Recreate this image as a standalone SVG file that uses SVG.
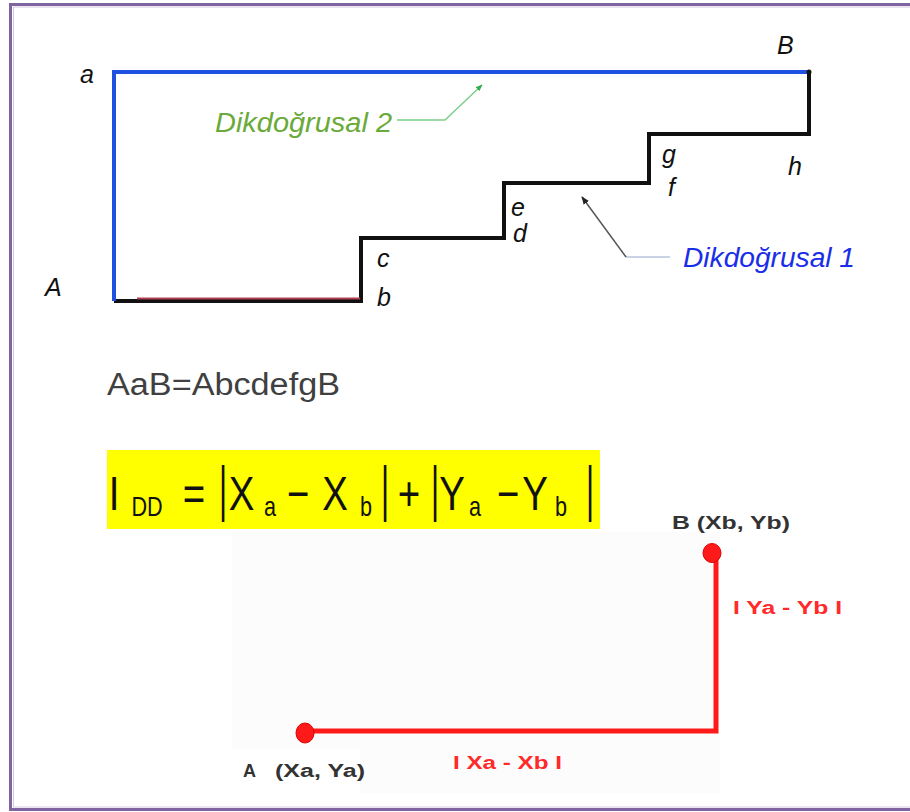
<svg xmlns="http://www.w3.org/2000/svg" width="910" height="812" viewBox="0 0 910 812">
  <style>
    .lbl { font-family: "Liberation Sans", Arial, sans-serif; font-style: italic; font-size: 25px; fill: #111; }
    .callout { font-family: "Liberation Sans", Arial, sans-serif; font-style: italic; font-size: 27px; }
    .eq { font-family: "Liberation Sans", Arial, sans-serif; fill: #111; text-anchor: middle; }
    .big { font-size: 48px; }
    .sub { font-size: 27px; }
    .pt { font-family: "Liberation Sans", Arial, sans-serif; font-weight: bold; font-size: 18px; fill: #333; }
    .dist { font-family: "Liberation Sans", Arial, sans-serif; font-weight: bold; font-size: 18px; fill: #ff2a2a; }
  </style>
  <defs>
    <marker id="arrowGreen" viewBox="0 0 10 10" refX="9" refY="5" markerWidth="7" markerHeight="7" orient="auto" markerUnits="userSpaceOnUse">
      <path d="M0,1 L10,5 L0,9 Z" fill="#2fb04a"/>
    </marker>
    <marker id="arrowDark" viewBox="0 0 10 10" refX="9" refY="5" markerWidth="8" markerHeight="8" orient="auto" markerUnits="userSpaceOnUse">
      <path d="M0,1 L10,5 L0,9 Z" fill="#222"/>
    </marker>
  </defs>

  <rect width="910" height="812" fill="#ffffff"/>
  <!-- frame -->
  <rect x="10.5" y="4.5" width="1000" height="805" fill="none" stroke="#8064a2" stroke-width="3"/>
  <rect x="13.5" y="7" width="1000" height="800" fill="none" stroke="#d4c8e6" stroke-width="1"/>

  <!-- upper figure: two rectilinear paths from A to B -->
  <g id="connectors">
    <path id="path1" d="M114,301 H361 V238 H504 V183 H649 V134 H809 V72" fill="none" stroke="#111" stroke-width="4" stroke-linejoin="miter"/>
    <line id="baseline-red" x1="137" y1="298.5" x2="360" y2="298.5" stroke="#b04050" stroke-width="2"/>
    <path id="path2" d="M809,72 H114 V301" fill="none" stroke="#1f50e0" stroke-width="4"/>
    <circle cx="809" cy="72" r="2.5" fill="#111"/>
    <polyline id="leader2" points="397,120 445,120 482,85" fill="none" stroke="#7ccf8a" stroke-width="1.5" marker-end="url(#arrowGreen)"/>
    <polyline id="leader1a" points="670,257 626,257" fill="none" stroke="#b8c4dc" stroke-width="1.5"/>
    <line id="leader1b" x1="626" y1="257" x2="582" y2="197" stroke="#555" stroke-width="1.5" marker-end="url(#arrowDark)"/>
  </g>

  <g id="point-labels">
    <text class="lbl" x="80" y="83">a</text>
    <text class="lbl" x="777" y="54">B</text>
    <text class="lbl" x="45" y="296">A</text>
    <text class="lbl" x="377" y="267">c</text>
    <text class="lbl" x="377" y="306">b</text>
    <text class="lbl" x="511" y="216">e</text>
    <text class="lbl" x="513" y="242">d</text>
    <text class="lbl" x="662" y="163">g</text>
    <text class="lbl" x="668" y="196">f</text>
    <text class="lbl" x="788" y="175">h</text>
  </g>

  <g id="label-dikdogrusal-2">
    <text class="callout" x="215" y="132" fill="#6aaa3a" textLength="177" lengthAdjust="spacingAndGlyphs">Dikdoğrusal 2</text>
  </g>
  <g id="label-dikdogrusal-1">
    <text class="callout" x="683" y="267" fill="#1a2ee8" textLength="172" lengthAdjust="spacingAndGlyphs">Dikdoğrusal 1</text>
  </g>

  <!-- path equality -->
  <g id="equality">
    <text x="107" y="395" font-family="Liberation Sans, Arial, sans-serif" font-size="31" fill="#404040" textLength="233" lengthAdjust="spacingAndGlyphs">AaB=AbcdefgB</text>
  </g>

  <!-- rectilinear distance formula -->
  <g id="formula">
    <rect x="107" y="450" width="493" height="79" fill="#ffff00"/>
    <g transform="scale(0.8 1)">
      <text class="eq big" x="142.5" y="510">I</text>
      <text class="eq sub" x="183.75" y="516">DD</text>
      <text class="eq big" x="242.5" y="510">=</text>
      <text class="eq big" x="301.9" y="510">X</text>
      <text class="eq sub" x="337.5" y="516">a</text>
      <text class="eq big" x="372.5" y="510">−</text>
      <text class="eq big" x="418.75" y="510">X</text>
      <text class="eq sub" x="457.5" y="516">b</text>
      <text class="eq big" x="511.25" y="510">+</text>
      <text class="eq big" x="565" y="510">Y</text>
      <text class="eq sub" x="593.75" y="516">a</text>
      <text class="eq big" x="635" y="510">−</text>
      <text class="eq big" x="668.75" y="510">Y</text>
      <text class="eq sub" x="701.25" y="516">b</text>
    </g>
    <g transform="scale(0.5 1)" font-size="62">
      <text class="eq" x="446" y="509">|</text>
      <text class="eq" x="770" y="509">|</text>
      <text class="eq" x="870" y="509">|</text>
      <text class="eq" x="1180" y="509">|</text>
    </g>
  </g>

  <!-- lower figure: distance components between two points -->
  <path id="panel" d="M232,532 H720 V793 H360 V750 H232 Z" fill="#fcfcfc"/>
  <g id="distance-path">
    <path d="M305,731 H716 V553" fill="none" stroke="#ff1a1a" stroke-width="5" stroke-linejoin="miter"/>
  </g>
  <g id="point-A">
    <ellipse cx="305" cy="733" rx="9" ry="10" fill="#ff1a1a" stroke="#d00" stroke-width="1"/>
    <text class="pt" x="243" y="777">A</text>
    <text class="pt" x="275" y="777" textLength="90" lengthAdjust="spacingAndGlyphs">(Xa, Ya)</text>
  </g>
  <g id="point-B">
    <ellipse cx="712" cy="553" rx="9" ry="9.5" fill="#ff1a1a" stroke="#d00" stroke-width="1"/>
    <text class="pt" x="672" y="529" textLength="118" lengthAdjust="spacingAndGlyphs">B (Xb, Yb)</text>
  </g>
  <g id="label-dy">
    <text class="dist" x="733" y="614" textLength="109" lengthAdjust="spacingAndGlyphs">I Ya - Yb I</text>
  </g>
  <g id="label-dx">
    <text class="dist" x="453" y="769" textLength="109" lengthAdjust="spacingAndGlyphs">I Xa - Xb I</text>
  </g>
</svg>
